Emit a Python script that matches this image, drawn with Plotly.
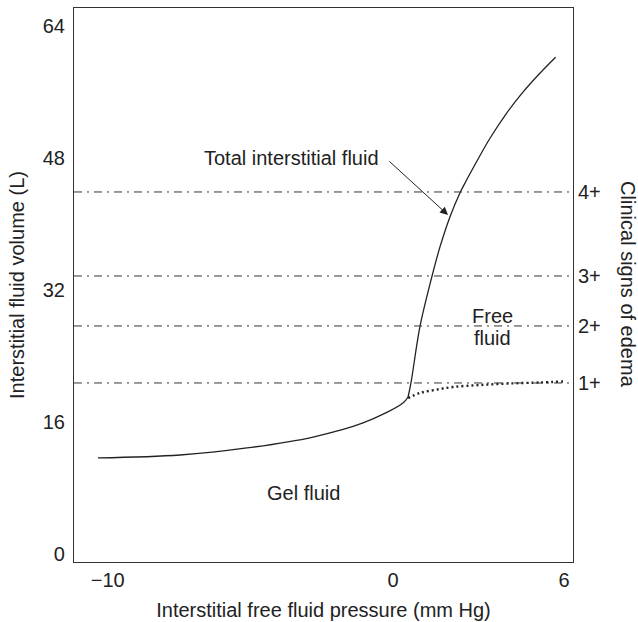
import plotly.graph_objects as go

# ---- data ----
gel_x = [-10.34, -7.46, -5.12, -2.80, -1.05, 0.35, 0.53]
gel_y = [11.64, 12.0, 12.85, 14.18, 15.88, 18.30, 19.03]

total_x = [0.53, 0.63, 0.95, 1.37, 1.65, 2.00, 2.35, 2.58, 2.93, 3.40, 3.98, 4.57, 5.15, 5.70]
total_y = [19.03, 20.73, 27.64, 33.70, 37.25, 40.88, 43.79, 45.33, 47.55, 50.39, 53.42, 56.04, 58.27, 60.21]

dotted_x = [0.53, 0.95, 1.47, 2.10, 3.05, 4.10, 5.15, 5.96]
dotted_y = [18.91, 19.52, 19.88, 20.24, 20.48, 20.67, 20.79, 20.91]

edema_levels = [20.73, 27.64, 33.70, 43.88]
edema_labels = ["1+", "2+", "3+", "4+"]

x_ticks = [-10, 0, 6]
x_ticktext = ["\u221210", "0", "6"]
y_ticks = [0, 16, 32, 48, 64]

x_range = [-11.18, 6.31]
y_range = [-0.97, 66.18]

FONT = "Liberation Sans, Arial, Helvetica, sans-serif"
TXT = "#222222"
LINE = "#222222"

fig = go.Figure()

fig.add_trace(go.Scatter(x=gel_x, y=gel_y, mode="lines",
                         line=dict(color=LINE, width=1.3, shape="spline", smoothing=1.0),
                         showlegend=False, hoverinfo="skip"))
fig.add_trace(go.Scatter(x=total_x, y=total_y, mode="lines",
                         line=dict(color=LINE, width=1.3, shape="spline", smoothing=1.0),
                         showlegend=False, hoverinfo="skip"))
fig.add_trace(go.Scatter(x=dotted_x, y=dotted_y, mode="lines",
                         line=dict(color=LINE, width=2.4, dash="2px,3px", shape="spline"),
                         showlegend=False, hoverinfo="skip"))
# invisible trace to activate right axis
fig.add_trace(go.Scatter(x=[x_range[0]], y=[edema_levels[0]], yaxis="y2", mode="markers",
                         marker=dict(opacity=0), showlegend=False, hoverinfo="skip"))

for lv in edema_levels:
    fig.add_shape(type="line", xref="paper", x0=0, x1=1, yref="y", y0=lv, y1=lv,
                  line=dict(color="#333333", width=1, dash="8px,5px,2px,5px"))

ann_font = dict(family=FONT, size=20, color=TXT)
fig.add_annotation(x=-3.57, y=48.0, text="Total interstitial fluid", showarrow=False,
                   font=ann_font)
fig.add_annotation(x=1.93, y=41.09, ax=-0.18, ay=47.76, axref="x", ayref="y",
                   text="", showarrow=True, arrowhead=2, arrowsize=1.6, arrowwidth=1,
                   arrowcolor=LINE)
fig.add_annotation(x=3.50, y=28.85, text="Free", showarrow=False, font=ann_font)
fig.add_annotation(x=3.50, y=26.18, text="fluid", showarrow=False, font=ann_font)
fig.add_annotation(x=-3.15, y=7.39, text="Gel fluid", showarrow=False, font=ann_font)
fig.add_annotation(xref="paper", yref="paper", x=1.11, y=0.5, text="Clinical signs of edema",
                   textangle=90, showarrow=False, font=ann_font, xanchor="center", yanchor="middle")

fig.update_layout(
    width=638, height=622,
    margin=dict(l=74, r=65, t=8, b=60, autoexpand=False),
    paper_bgcolor="white", plot_bgcolor="white",
    font=dict(family=FONT, size=20, color=TXT),
    xaxis=dict(range=x_range, tickvals=x_ticks, ticktext=x_ticktext, showgrid=False,
               zeroline=False, showline=True, linecolor="#333333", linewidth=1.2, mirror=True,
               ticks="", ticklabelstandoff=0,
               title=dict(text="Interstitial free fluid pressure (mm Hg)", standoff=12,
                          font=dict(size=20)),
               automargin=False),
    yaxis=dict(range=y_range, tickvals=y_ticks, showgrid=False, zeroline=False,
               showline=True, linecolor="#333333", linewidth=1.2, mirror=True,
               ticks="", ticklabelstandoff=4,
               title=dict(text="Interstitial fluid volume (L)", standoff=12, font=dict(size=20)),
               automargin=False),
    yaxis2=dict(range=y_range, overlaying="y", side="right", tickvals=edema_levels,
                ticktext=edema_labels, showgrid=False, zeroline=False, showline=False,
                ticks="", ticklabelstandoff=4, automargin=False),
)

fig.write_html("out.html", post_script="document.body.style.margin='0px';",
               config={"displayModeBar": False})
